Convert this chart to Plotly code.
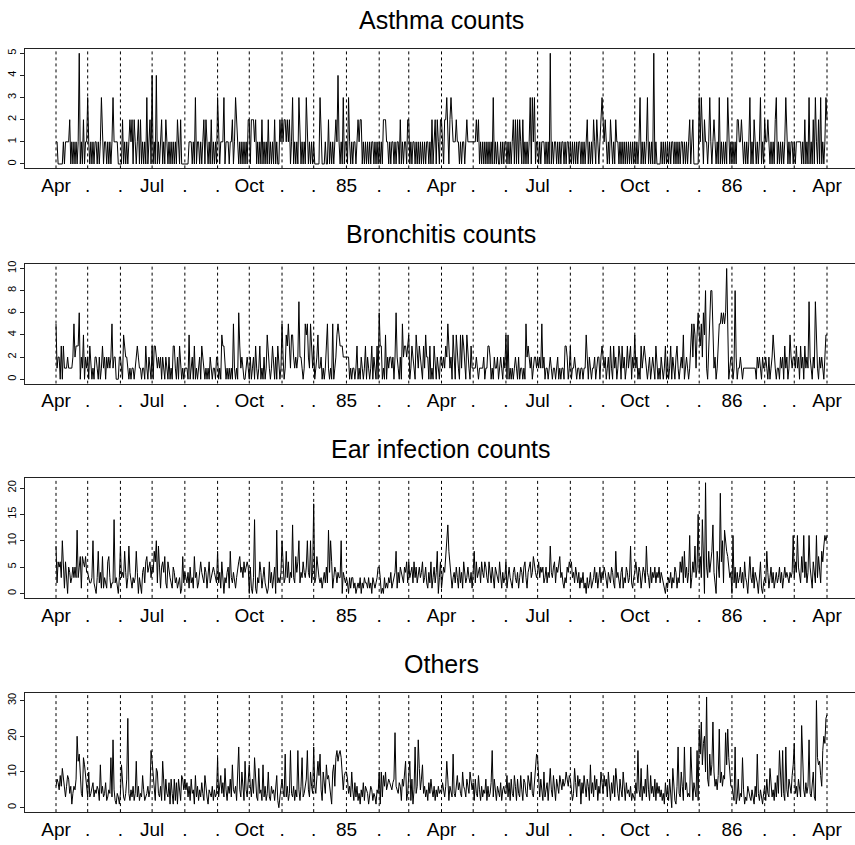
import pandas as pd
import plotly.graph_objects as go
from plotly.subplots import make_subplots

START = "1984-04-01"
END = "1986-04-01"

# Daily counts, Apr 1984 .. Apr 1 1986 (one row per month)
asthma = [
    1,1,0,0,0,0,0,1,0,1,1,1,1,2,0,1,0,1,0,1,0,1,5,0,1,0,2,0,1,1,
    3,1,0,1,0,1,0,1,1,0,1,0,1,3,1,0,1,1,0,1,0,1,0,1,3,1,1,1,1,0,0,
    0,0,2,0,1,0,1,0,1,2,1,2,0,2,1,0,1,2,0,2,0,1,0,1,0,3,0,1,2,0,
    4,0,1,0,4,0,1,0,1,2,0,1,0,2,1,0,1,0,1,0,1,0,1,0,2,1,0,2,0,0,0,
    0,0,0,0,1,1,1,0,1,0,3,0,1,1,0,1,0,1,2,0,2,1,0,1,0,2,0,1,0,1,0,
    3,1,0,1,1,1,3,0,1,1,1,0,1,1,2,0,1,3,2,1,0,1,0,1,0,1,0,1,0,2,
    2,0,2,2,2,1,2,0,1,0,1,0,2,0,1,0,1,0,2,0,1,0,1,0,2,0,1,0,0,2,1,
    2,1,2,2,1,2,1,2,0,1,3,0,1,0,1,0,3,1,0,1,0,1,0,3,1,0,1,0,1,0,
    1,0,0,0,0,0,3,1,0,0,0,1,0,0,2,0,1,0,1,0,1,2,1,4,1,0,1,0,3,0,1,
    1,0,3,1,0,1,0,1,1,0,1,2,1,2,2,0,1,0,1,0,1,0,1,0,1,1,0,1,0,1,0,
    1,0,1,0,2,2,2,1,1,0,1,0,1,1,0,1,0,1,1,0,2,0,1,0,1,1,0,2,
    2,0,1,0,1,1,0,1,0,1,0,1,0,1,0,1,0,1,1,0,1,0,2,0,1,2,0,2,1,0,2,
    2,1,0,2,2,3,1,0,2,3,2,1,1,1,2,1,1,0,1,0,1,1,0,1,2,1,1,1,1,1,
    1,1,1,2,1,2,0,1,0,1,0,1,0,1,0,1,0,1,0,3,0,1,0,1,0,0,1,0,1,0,1,
    1,0,1,0,1,0,1,2,0,2,0,2,0,2,1,0,2,0,1,0,1,0,1,3,0,3,1,3,0,1,
    1,0,1,0,1,1,1,0,1,0,1,0,5,0,1,0,1,1,0,1,0,1,0,1,1,0,1,0,1,1,0,
    1,0,1,0,1,0,1,0,1,1,0,1,0,1,0,1,2,0,1,0,1,0,2,1,0,2,1,0,1,2,3,
    2,1,2,1,0,1,0,2,1,0,1,0,2,1,1,0,1,0,1,0,1,0,1,0,1,0,1,0,1,0,
    1,0,1,0,1,3,0,1,0,1,0,1,3,0,1,0,1,0,5,0,1,0,0,0,0,1,0,1,0,1,0,
    1,0,1,0,1,1,0,1,0,1,0,1,0,1,1,0,1,0,1,0,1,2,0,1,2,0,0,0,0,0,
    3,1,3,1,0,2,1,1,0,1,3,1,0,1,2,1,0,1,0,3,0,1,0,1,0,1,0,3,1,0,1,
    0,1,0,1,0,2,2,1,1,2,1,0,1,0,1,0,1,3,0,1,0,2,1,0,1,0,1,3,0,1,0,
    2,1,1,2,1,0,1,0,1,0,2,3,0,1,0,1,0,1,0,1,3,1,0,1,0,1,1,0,
    1,0,1,1,1,1,1,0,1,0,2,0,1,0,3,0,1,0,2,0,3,1,0,2,0,3,0,1,0,1,3,
    2,
]

bronchitis = [
    5,1,2,2,0,3,0,3,1,1,1,2,1,1,1,1,2,5,2,3,3,3,6,0,2,1,4,0,2,1,
    2,0,3,1,0,1,0,2,2,1,0,2,0,1,3,1,2,0,2,1,2,1,2,5,1,2,2,0,0,0,2,
    2,1,0,4,3,2,2,1,0,1,0,1,1,0,1,2,3,2,1,1,0,1,1,0,3,1,0,2,1,0,
    3,0,3,3,2,1,2,1,2,0,2,1,0,2,1,0,2,0,1,0,3,3,1,0,2,0,3,1,0,1,0,
    1,1,1,0,4,0,1,2,0,3,0,1,0,1,2,0,3,2,1,0,1,0,1,0,2,1,0,1,1,0,2,
    2,0,1,0,4,3,3,1,0,1,0,1,0,1,0,5,1,0,1,0,6,3,1,2,1,0,0,1,2,1,
    0,2,0,1,2,0,3,1,0,1,3,0,1,0,2,0,1,4,2,1,0,1,3,1,0,2,0,3,1,0,1,
    5,2,0,1,4,3,5,3,1,4,4,2,1,2,1,2,7,2,2,1,0,1,5,4,5,2,1,5,2,1,
    3,0,1,2,4,1,1,2,0,1,0,1,3,5,1,0,1,0,5,0,1,2,4,5,4,3,3,3,2,2,2,
    2,2,2,0,1,0,1,1,0,1,3,0,1,0,2,1,0,1,3,0,2,1,0,1,3,0,2,1,0,3,0,
    6,3,3,0,1,0,4,0,2,1,2,2,1,2,0,2,6,2,1,0,2,0,5,2,3,3,2,3,
    4,0,1,3,2,1,0,4,2,1,3,2,1,0,3,1,4,2,2,0,3,0,1,0,3,1,0,2,1,0,2,
    2,1,2,1,3,2,5,3,1,2,0,4,1,0,4,2,1,0,4,1,4,3,1,0,4,2,1,0,3,1,
    1,1,1,2,1,0,1,1,1,1,2,0,1,1,3,3,2,0,1,0,2,1,1,2,0,1,2,1,0,2,1,
    4,0,4,0,1,0,1,0,1,2,1,0,2,0,1,1,0,1,0,5,2,3,2,1,2,0,1,2,2,1,
    2,1,2,1,5,1,2,0,1,1,0,1,2,1,0,1,1,0,1,2,0,1,0,1,1,0,3,3,2,0,1,
    3,0,1,1,2,1,0,1,1,0,1,1,0,1,1,4,1,0,2,1,0,1,1,2,0,1,2,2,0,2,3,
    2,1,2,0,1,2,0,3,1,0,3,1,2,0,1,3,2,0,3,1,2,0,1,3,1,2,3,0,2,1,
    4,1,2,0,1,0,3,1,2,3,2,1,0,1,2,0,1,2,1,0,3,1,0,1,0,2,1,0,1,3,0,
    2,0,1,3,0,2,1,0,2,3,1,0,1,2,1,4,0,1,2,1,0,1,3,5,2,5,4,1,4,6,
    4,3,5,2,6,4,8,1,0,3,6,8,8,3,1,2,0,1,3,5,5,6,5,6,5,6,10,5,0,1,2,
    2,0,1,8,2,0,1,1,2,1,0,1,1,1,1,1,1,1,1,1,1,1,1,0,2,1,2,1,0,2,1,
    1,2,1,0,2,0,1,2,4,2,1,0,1,1,0,2,1,2,0,3,1,2,0,1,4,2,1,2,
    2,1,3,1,2,0,3,1,2,0,3,1,2,1,7,2,1,0,2,1,7,3,1,0,2,1,2,1,0,2,4,
    4,
]

ear = [
    9,2,6,5,6,3,10,4,1,6,3,0,5,4,2,3,5,3,5,3,12,3,5,7,1,7,6,5,7,4,
    4,3,2,2,3,10,2,1,0,3,8,2,4,1,7,1,3,2,1,6,7,3,1,2,2,14,2,3,1,0,3,
    9,3,4,3,8,4,1,3,9,4,2,1,3,2,3,8,4,0,3,1,0,4,5,2,6,7,4,5,6,3,
    5,4,8,6,10,2,9,5,1,5,6,4,7,2,1,6,4,3,2,1,5,4,2,3,1,2,3,0,1,7,2,
    4,3,2,4,1,5,2,3,1,7,3,4,1,2,4,6,4,3,2,5,4,1,4,6,2,3,4,5,4,3,2,
    8,2,4,1,6,3,0,3,2,4,5,1,8,3,2,4,2,1,3,5,6,7,4,5,3,6,4,5,6,5,
    0,5,1,0,3,14,1,0,3,2,6,4,1,3,5,2,1,0,1,6,2,4,1,3,5,0,12,2,3,2,4,
    10,6,2,3,8,3,6,2,4,3,13,3,2,7,4,6,10,2,4,3,6,4,3,5,10,4,3,10,2,4,
    17,2,3,7,4,3,2,3,1,3,4,2,5,2,12,4,10,6,1,3,5,4,2,4,3,3,10,0,4,3,2,
    3,2,0,3,1,3,3,1,2,0,1,2,1,3,0,2,1,3,2,2,1,3,1,2,0,3,2,1,2,3,5,
    5,3,0,1,0,3,1,2,1,3,2,4,1,2,3,4,8,1,4,2,5,4,3,2,5,4,6,2,
    6,3,4,5,2,6,3,5,2,4,5,3,4,6,2,3,5,2,1,4,2,6,1,3,5,2,4,8,0,3,6,
    1,3,5,4,7,8,13,8,5,4,1,3,4,2,5,3,1,5,2,4,1,6,4,2,3,5,3,2,4,1,
    4,8,2,6,3,4,5,2,6,4,3,6,5,3,2,6,4,2,5,3,1,5,4,3,2,6,3,1,4,2,3,
    6,1,4,5,3,2,1,4,5,3,2,4,1,3,5,4,2,5,6,3,1,4,5,6,3,4,7,5,4,3,
    4,6,3,5,4,5,2,3,5,2,4,3,9,4,3,5,6,2,5,4,6,7,3,4,2,1,3,2,5,4,6,
    5,6,3,4,2,5,3,2,4,1,3,2,4,1,2,0,3,1,2,4,1,2,3,5,2,4,1,3,5,2,4,
    3,5,4,2,1,4,3,2,5,4,2,1,8,3,4,2,1,4,5,1,3,2,5,4,2,3,9,2,1,3,
    4,6,3,2,5,4,1,3,5,4,2,9,4,3,1,5,2,4,3,5,2,4,3,5,2,4,3,2,1,0,2,
    1,3,2,4,1,3,2,5,4,1,3,2,6,4,7,2,8,3,5,2,4,11,1,3,6,4,9,3,5,15,
    4,7,3,14,6,0,21,5,3,8,4,6,8,13,4,2,0,8,5,3,19,6,10,2,12,9,8,7,5,3,4,
    0,11,2,5,1,4,2,3,5,2,4,1,6,3,2,0,4,7,3,2,5,1,4,3,2,0,3,6,1,0,2,
    3,2,8,4,1,3,5,2,4,1,3,4,2,3,5,2,4,1,3,5,3,4,3,2,4,3,4,11,
    3,6,4,11,5,3,2,7,4,11,3,6,2,4,11,5,3,1,6,4,2,11,3,7,4,2,8,6,9,11,10,
    11,
]

others = [
    6,8,7,5,9,6,11,8,4,3,6,9,8,4,6,1,4,6,5,8,20,13,15,10,4,3,14,12,9,5,
    3,10,3,4,6,7,3,5,4,6,5,2,12,4,6,3,4,7,2,3,5,4,14,3,19,5,2,1,4,3,1,
    4,12,5,3,2,4,8,25,4,2,5,3,6,2,4,13,3,6,2,4,3,9,5,2,3,4,6,3,5,16,
    13,9,4,2,11,10,4,3,6,2,13,5,2,8,4,3,7,1,8,4,1,8,2,7,1,8,4,2,9,8,5,
    8,5,7,3,6,2,8,4,5,1,9,3,6,2,5,3,7,4,2,9,5,3,1,5,4,3,6,2,5,3,4,
    14,3,6,9,4,7,3,11,5,2,6,4,8,3,12,5,4,6,2,10,17,5,3,10,6,2,13,5,3,8,
    12,6,3,8,4,14,6,3,2,11,4,5,2,12,3,6,2,4,10,3,2,6,4,5,2,6,9,2,0,3,6,
    8,5,3,15,3,6,2,4,16,4,3,6,2,5,3,16,5,2,6,14,3,4,7,8,16,5,3,10,6,4,
    17,6,4,8,13,9,15,5,2,10,6,4,12,8,9,6,3,1,10,12,6,14,16,13,15,16,14,8,5,9,10,
    10,8,4,6,3,10,5,2,7,3,6,2,4,1,5,3,7,2,6,5,4,1,3,6,5,2,4,3,1,5,4,
    10,1,10,3,9,6,10,5,7,8,7,6,5,7,8,21,6,5,4,7,6,2,8,6,9,13,2,4,
    9,13,2,8,1,5,17,4,6,19,11,5,8,12,4,6,3,5,2,7,4,8,5,3,6,2,5,3,6,4,5,
    4,7,5,3,6,13,8,2,6,4,3,15,4,3,6,9,5,7,4,3,10,6,5,3,8,6,4,10,7,5,
    7,2,8,4,3,9,5,2,6,3,5,4,8,2,6,3,4,7,16,3,8,5,2,6,4,3,7,2,5,6,4,
    4,9,3,7,2,8,4,3,9,6,2,8,4,3,9,5,2,8,7,4,3,9,6,5,10,4,3,8,10,15,
    14,6,3,8,4,2,10,3,5,7,2,6,11,5,3,9,4,2,8,6,4,9,7,5,8,6,7,10,8,6,9,
    8,5,2,4,11,7,3,9,6,8,1,7,4,9,5,3,8,6,2,12,4,7,3,9,5,8,2,6,4,10,7,
    4,9,6,8,3,10,5,2,7,4,9,3,11,6,4,2,8,5,3,10,6,2,7,4,5,3,6,2,4,3,
    2,7,4,16,5,3,11,2,6,4,8,3,12,5,2,9,4,6,3,8,2,7,4,6,3,5,2,4,1,7,3,
    6,2,8,4,0,11,5,2,1,6,17,4,3,10,6,2,17,5,7,3,4,3,17,6,2,7,4,3,16,2,
    22,15,24,12,18,20,10,31,8,6,15,9,12,24,10,6,8,5,9,22,7,10,6,9,8,21,12,22,14,8,6,
    6,3,2,17,1,3,8,2,4,3,14,5,1,3,2,6,4,3,2,5,3,1,6,3,15,4,2,5,3,1,4,
    6,2,8,4,3,11,6,3,5,2,7,3,9,4,16,6,3,16,4,2,17,5,3,8,6,4,9,12,
    18,4,6,3,8,5,3,23,10,5,3,7,4,6,19,4,3,6,10,3,2,30,14,12,13,9,6,16,20,18,25,
    26,
]

titles = ["Asthma counts", "Bronchitis counts", "Ear infection counts", "Others"]
y_ticks = [[0, 1, 2, 3, 4, 5], [0, 2, 4, 6, 8, 10], [0, 5, 10, 15, 20], [0, 10, 20, 30]]
month_labels = ["Apr", ".", ".", "Jul", ".", ".", "Oct", ".", ".", "85", ".", ".",
                "Apr", ".", ".", "Jul", ".", ".", "Oct", ".", ".", "86", ".", ".", "Apr"]

series = [asthma, bronchitis, ear, others]

start = pd.Timestamp(START)
month_starts = pd.date_range(START, END, freq="MS")
month_idx = [int((d - start).days) for d in month_starts]

W, H = 855, 845
# panel boxes in pixels (top, bottom)
boxes = [(46, 166), (262, 382), (477, 597), (692, 812)]
title_y = [17, 232, 448, 663]
x_left_px = 25
x0_px, x1_px = 56.0, 827.0
ppd = (x1_px - x0_px) / month_idx[-1]
x_range = [-(x0_px - x_left_px) / ppd, month_idx[-1] + (W - x1_px) / ppd]

FONT = "Liberation Sans, Arial, Helvetica, sans-serif"

fig = make_subplots(rows=4, cols=1)

for i, vals in enumerate(series):
    n = len(vals)
    xs = list(range(n))
    fig.add_trace(go.Scatter(x=xs, y=vals, mode="lines",
                             line=dict(color="black", width=1),
                             showlegend=False, hoverinfo="skip"),
                  row=i + 1, col=1)
    lo, hi = min(vals), max(vals)
    span = hi - lo
    yr = [lo - 0.04 * span, hi + 0.04 * span]
    top, bot = boxes[i]
    ax = "" if i == 0 else str(i + 1)
    fig.layout["xaxis" + ax].update(
        domain=[x_left_px / W, 1.0], range=x_range,
        tickmode="array", tickvals=month_idx, ticktext=month_labels,
        ticks="", 
        tickfont=dict(size=19, color="black", family=FONT),
        showline=True, linecolor="#222", linewidth=1, mirror=True,
        showgrid=False, zeroline=False)
    fig.layout["yaxis" + ax].update(
        domain=[1 - bot / H, 1 - top / H], range=yr,
        tickmode="array", tickvals=y_ticks[i],
        ticks="outside", ticklen=4, tickcolor="#222",
        tickangle=-90, tickfont=dict(size=11, color="black", family=FONT),
        showline=True, linecolor="#222", linewidth=1,
        showgrid=False, zeroline=False)
    xref = "x" + ax
    yref = "y" + ax
    for m in month_idx:
        fig.add_shape(type="line", x0=m, x1=m, y0=yr[0], y1=yr[1],
                      xref=xref, yref=yref,
                      line=dict(color="black", width=1, dash="dot"))
    fig.add_annotation(text=titles[i], x=441 / W, y=1 - title_y[i] / H,
                       xref="paper", yref="paper", showarrow=False,
                       xanchor="center", yanchor="middle",
                       font=dict(size=25, color="black", family=FONT))

fig.update_layout(width=W, height=H, margin=dict(l=0, r=0, t=0, b=0),
                  paper_bgcolor="white", plot_bgcolor="white",
                  font=dict(family=FONT, color="black"))

fig.write_html("out.html")
